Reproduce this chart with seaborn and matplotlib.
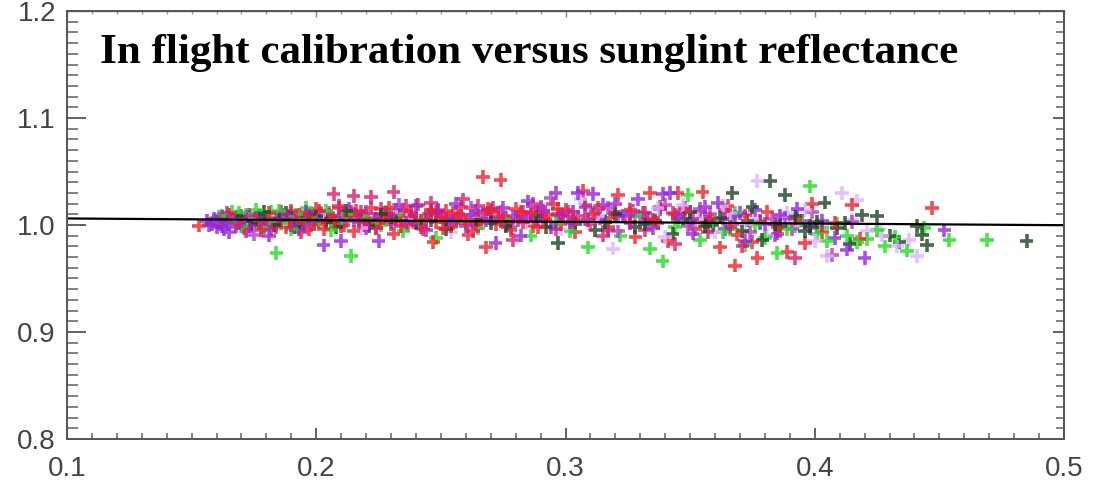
import numpy as np
import pandas as pd
import matplotlib
matplotlib.use("Agg")
import matplotlib.pyplot as plt
import seaborn as sns
from matplotlib.ticker import MultipleLocator

# ---------------- data ----------------
red_x = [0.153,0.162,0.165,0.168,0.171,0.173,0.176,0.178,0.181,0.183,0.186,0.188,0.190,0.192,0.194,0.196,0.198,0.200,0.202,0.203,
         0.205,0.207,0.209,0.210,0.212,0.214,0.215,0.217,0.219,0.221,0.222,0.224,0.226,0.228,0.230,0.231,0.233,0.235,0.237,0.239,
         0.241,0.243,0.245,0.247,0.248,0.250,0.252,0.254,0.256,0.258,0.260,0.261,0.263,0.265,0.267,0.268,0.270,0.272,0.274,0.276,
         0.278,0.280,0.283,0.286,0.289,0.292,0.295,0.298,0.301,0.304,0.307,0.309,0.313,0.317,0.321,0.324,0.328,0.331,0.334,0.337,
         0.341,0.345,0.348,0.352,0.355,0.358,0.362,0.365,0.368,0.369,0.372,0.375,0.377,0.381,0.385,0.389,0.392,0.396,0.399,0.403,
         0.408,0.415,0.418,0.447,
         0.174,0.179,0.184,0.189,0.193,0.197,0.201,0.206,0.211,0.216,0.220,0.225,0.229,0.234,0.238,0.242,0.246,0.251,0.255,0.259,
         0.264,0.269,0.273,0.277,0.282,0.287,0.293,0.297,0.303,0.311,0.318,0.326,0.335,0.343,0.356,0.366]
red_y = [0.9995,1.006,1.010,1.002,0.997,1.008,1.004,0.995,1.011,1.001,1.006,0.998,1.013,1.003,0.993,1.008,1.000,1.015,1.005,0.996,
         1.010,1.002,1.018,0.999,1.007,1.012,0.994,1.004,1.009,1.001,1.016,0.997,1.006,1.011,1.003,0.992,1.008,1.014,1.000,1.005,
         1.019,0.996,1.010,0.984,1.003,1.007,1.013,0.999,1.005,1.017,1.002,0.991,1.009,1.004,1.045,0.979,1.012,1.001,1.042,1.007,
         0.995,1.015,1.003,1.010,0.998,1.006,1.020,1.001,1.012,0.993,1.032,1.005,1.016,0.998,1.028,1.008,0.989,1.011,1.030,1.002,
         0.985,1.030,1.014,0.996,1.031,1.006,0.979,1.018,0.962,0.991,1.009,0.984,0.969,1.012,0.998,0.975,1.005,0.983,1.020,0.993,
         1.002,1.019,0.987,1.016,
         1.001,1.007,0.998,1.004,1.010,0.996,1.003,1.008,1.000,1.013,1.005,1.002,1.016,0.999,1.009,1.004,1.014,0.997,1.011,1.006,
         1.001,1.015,1.008,1.003,1.012,0.999,1.009,1.015,1.004,1.010,1.007,1.014,1.005,1.011,1.003,0.998]

crimson_x = [0.164,0.170,0.177,0.182,0.189,0.195,0.201,0.207,0.211,0.215,0.219,0.222,0.226,0.231,0.234,0.238,0.242,0.246,0.251,0.255,
             0.259,0.263,0.267,0.271,0.275,0.279,0.283,0.287,0.291,0.296,0.300,0.305,0.310,0.315,0.320,0.326,0.332,0.338,0.344,0.351,
             0.357,0.364,0.371,0.378,0.385,0.392,
             0.167,0.173,0.180,0.186,0.192,0.198,0.204,0.209,0.213,0.218,0.224,0.229,0.236,0.244,0.249,0.257,0.265,0.273,0.281,0.289,
             0.298,0.308]
crimson_y = [1.011,1.007,1.002,0.996,1.009,1.004,1.013,1.029,1.006,1.027,1.000,1.026,1.015,1.031,1.004,1.011,0.998,1.021,1.008,1.002,
             1.024,0.994,1.010,1.016,1.003,0.986,1.012,1.020,1.005,0.996,1.014,1.008,1.001,0.990,1.012,1.003,0.995,1.017,0.982,1.006,
             0.993,1.014,0.980,1.004,0.992,0.969,
             1.005,1.010,1.006,1.012,1.002,1.009,1.004,1.016,1.009,1.012,1.006,1.010,1.018,1.005,1.013,1.009,1.018,1.007,1.004,1.012,
             1.008,1.019]

purple_x = [0.156,0.158,0.159,0.160,0.161,0.162,0.163,0.164,0.165,0.167,0.168,0.170,0.172,0.174,0.176,0.179,0.181,0.184,0.187,0.190,
            0.193,0.196,0.199,0.203,0.206,0.210,0.213,0.217,0.220,0.225,0.228,0.232,0.236,0.240,0.244,0.248,0.252,0.256,0.260,0.264,
            0.268,0.272,0.275,0.279,0.282,0.285,0.288,0.291,0.294,0.296,0.299,0.302,0.305,0.308,0.311,0.314,0.317,0.320,0.323,0.326,
            0.329,0.332,0.335,0.339,0.342,0.345,0.348,0.351,0.354,0.357,0.361,0.364,0.368,0.372,0.376,0.380,0.384,0.388,0.393,0.398,
            0.403,0.408,0.413,0.420,0.452,
            0.157,0.160,0.162,0.166,0.169,0.173,0.178,0.183,0.189,0.195,0.202,0.209,0.216,0.223,0.230,0.238,0.246,0.254,0.262,0.270,
            0.277,0.284,0.290,0.297,0.303,0.309,0.315,0.321,0.327,0.333,0.338,0.344,0.350,0.356,0.363,0.370,0.378,0.386,0.395]
purple_y = [1.004,1.001,1.006,0.998,1.003,1.008,0.996,1.002,0.993,1.005,0.999,1.009,0.994,1.003,1.007,0.998,0.990,1.005,1.010,1.000,
            0.996,1.012,1.004,0.981,1.008,0.985,1.015,1.003,0.997,0.985,1.009,1.014,1.002,1.018,0.995,1.012,1.006,1.020,0.999,1.013,
            1.004,0.983,1.016,1.008,0.990,1.022,1.005,1.013,0.998,1.030,1.010,1.003,1.030,1.017,1.029,1.006,0.995,1.020,1.009,1.002,
            1.024,1.011,0.997,1.029,1.030,1.007,1.016,0.992,1.012,1.003,1.021,0.996,1.008,0.985,1.014,1.001,0.990,1.007,1.015,0.997,
            1.004,0.988,0.977,0.969,0.995,
            1.000,1.003,0.999,1.006,1.002,0.999,1.004,1.001,1.006,1.003,1.009,1.005,1.010,1.006,1.001,1.008,1.011,1.004,1.009,1.014,
            1.002,1.007,1.016,1.010,1.012,1.004,1.019,1.008,1.013,1.006,1.015,1.010,1.004,1.017,1.006,1.011,1.002,1.009,1.004]

magenta_x = [0.158,0.163,0.169,0.175,0.185,0.195,0.205,0.215,0.224,0.233,0.244,0.253,0.262,0.270,0.278,0.286,0.294,0.303,0.312,0.321,
             0.330,0.340,0.349,0.358,0.367,0.374,0.383,0.391,0.399,0.407,0.415,
             0.161,0.166,0.172,0.180,0.190,0.200,0.210,0.220,0.229,0.239,0.249,0.258,0.266,0.274,0.282,0.290,0.299,0.308,0.317,0.326,
             0.335,0.345,0.354,0.363]
magenta_y = [1.002,0.999,1.004,0.991,1.007,0.999,1.011,1.004,0.997,1.019,1.007,1.001,1.016,1.006,0.998,1.011,1.025,1.002,1.013,0.994,
             1.008,1.019,0.999,1.010,1.001,0.993,1.006,0.996,1.012,0.972,1.003,
             1.006,1.003,1.008,1.004,1.011,1.006,1.002,1.012,1.008,1.003,1.014,1.009,1.002,1.012,1.007,1.017,1.010,1.005,1.016,1.011,
             1.003,1.009,1.015,1.006]

green_x = [0.160,0.162,0.164,0.166,0.168,0.170,0.172,0.174,0.176,0.178,0.180,0.182,0.184,0.186,0.188,0.190,0.193,0.196,0.199,0.202,
           0.206,0.210,0.214,0.218,0.222,0.228,0.235,0.242,0.248,0.256,0.265,0.275,0.286,0.296,0.302,0.309,0.316,0.322,0.328,0.334,
           0.339,0.344,0.349,0.354,0.359,0.363,0.368,0.372,0.376,0.380,0.385,0.389,0.393,0.398,0.401,0.405,0.409,0.413,0.417,0.421,
           0.425,0.428,0.432,0.437,0.444,0.454,0.469,
           0.161,0.165,0.169,0.173,0.177,0.181,0.185,0.189,0.192,0.195,0.198,0.204,0.208,0.212,0.220,0.226,0.232,0.345,0.357,0.366,
           0.378,0.392,0.403]
green_y = [1.004,1.009,1.001,1.012,1.006,0.999,1.010,1.003,1.014,0.997,1.007,1.012,0.974,1.002,1.009,0.996,1.005,1.016,1.001,1.011,
           0.995,1.006,0.971,1.008,1.002,1.012,0.994,1.004,0.988,1.003,0.997,1.006,0.990,1.001,0.994,0.979,1.004,0.990,1.009,0.978,
           0.966,0.998,1.028,0.986,1.004,0.993,1.011,0.981,1.000,0.988,0.974,0.996,1.006,1.036,0.992,0.985,1.001,0.990,0.984,0.987,
           0.995,0.980,0.989,0.976,0.997,0.986,0.986,
           1.008,1.005,1.011,1.007,1.009,1.004,1.013,1.006,1.010,1.003,1.008,1.013,1.002,1.010,1.005,1.000,1.009,1.004,0.999,0.996,
           1.003,0.999,0.997]

dkgreen_x = [0.168,0.174,0.179,0.185,0.191,0.197,0.204,0.212,0.221,0.230,0.240,0.252,0.264,0.276,0.288,0.297,0.304,0.312,0.320,0.328,
             0.336,0.343,0.350,0.356,0.362,0.367,0.371,0.375,0.379,0.382,0.386,0.388,0.392,0.396,0.401,0.404,0.409,0.414,0.419,0.425,
             0.430,0.434,0.441,0.443,0.445,0.485,
             0.171,0.177,0.183,0.188,0.194,0.200,0.208,0.226,0.246,0.270,0.292,0.316,0.332,0.347,0.359,0.373,0.384,0.398,0.412]
dkgreen_y = [1.008,1.001,1.012,1.005,0.998,1.010,1.003,1.013,0.999,1.007,1.002,0.996,1.005,0.999,1.008,0.983,1.001,0.995,1.010,0.998,
             1.004,0.992,1.012,0.999,1.007,1.030,0.994,1.017,0.986,1.041,0.999,1.028,1.008,0.994,1.003,1.021,0.997,0.982,1.009,1.008,
             0.990,0.984,0.999,0.991,0.981,0.985,
             1.004,1.009,1.000,1.011,1.005,1.008,0.998,1.010,1.004,1.002,0.998,1.003,1.001,1.006,1.000,1.004,1.001,0.999,1.002]

lav_x = [0.172,0.186,0.201,0.218,0.236,0.254,0.270,0.284,0.298,0.306,0.313,0.319,0.326,0.333,0.340,0.347,0.353,0.360,0.366,0.372,
         0.377,0.381,0.386,0.391,0.396,0.400,0.405,0.411,0.417,0.421,0.427,0.433,0.438,0.441,
         0.230,0.262,0.291,0.309,0.323,0.337,0.351,0.363,0.375,0.389,0.403,0.415,0.426]
lav_y = [1.006,1.001,1.009,0.997,1.005,0.993,1.011,1.002,0.996,1.024,1.008,0.978,1.015,1.002,0.989,1.019,1.006,0.993,1.011,1.001,
         1.041,0.990,1.008,0.998,1.014,0.985,0.971,1.030,1.023,0.994,0.990,0.980,0.986,0.971,
         1.012,1.008,1.014,1.003,1.009,1.016,1.001,1.018,1.006,1.011,1.000,1.005,0.996]

fit_x = [0.1, 0.5]
fit_y = [1.0061, 0.9998]

title_text = "In flight calibration versus sunglint reflectance"
x_ticks = [0.1, 0.2, 0.3, 0.4, 0.5]
x_labels = ["0.1", "0.2", "0.3", "0.4", "0.5"]
y_ticks = [0.8, 0.9, 1.0, 1.1, 1.2]
y_labels = ["0.8", "0.9", "1.0", "1.1", "1.2"]

# ---------------- build frame ----------------
series = [
    ("lavender", lav_x, lav_y),
    ("green", green_x, green_y),
    ("purple", purple_x, purple_y),
    ("magenta", magenta_x, magenta_y),
    ("red", red_x, red_y),
    ("crimson", crimson_x, crimson_y),
    ("dkgreen", dkgreen_x, dkgreen_y),
]
frames = [pd.DataFrame({"x": sx, "y": sy, "s": name}) for name, sx, sy in series]
df = pd.concat(frames, ignore_index=True)
# interleave drawing order so colours mix like the original
order = np.argsort((df["x"].values * 997.0) % 1.0, kind="stable")
df = df.iloc[order].reset_index(drop=True)

palette = {
    "lavender": "#dcb4ff",
    "green": "#22dd22",
    "purple": "#9226e0",
    "magenta": "#b63cc4",
    "red": "#f0202c",
    "crimson": "#d81e6e",
    "dkgreen": "#1e4422",
}

sns.set_theme(style="white")
plt.rcParams["font.family"] = ["Liberation Sans", "DejaVu Sans"]

fig = plt.figure(figsize=(11.01, 4.83), dpi=100)
ax = fig.add_axes([67/1101, 1 - 439/483, (1064-67)/1101, (439-11)/483])

sns.scatterplot(data=df, x="x", y="y", hue="s", palette=palette, marker="+",
                s=95, linewidth=2.6, alpha=0.8, legend=False, ax=ax)
sns.lineplot(x=fit_x, y=fit_y, color="black", linewidth=1.6, ax=ax)

ax.set_xlim(0.1, 0.5)
ax.set_ylim(0.8, 1.2)
ax.set_xlabel("")
ax.set_ylabel("")
ax.set_xticks(x_ticks)
ax.set_xticklabels(x_labels)
ax.set_yticks(y_ticks)
ax.set_yticklabels(y_labels)
ax.xaxis.set_minor_locator(MultipleLocator(0.01))
ax.yaxis.set_minor_locator(MultipleLocator(0.01))

for sp in ax.spines.values():
    sp.set_color("#555555")
    sp.set_linewidth(1.4)

ax.tick_params(axis="y", which="major", direction="in", length=14, width=1.3,
               color="#555555", labelsize=20, labelcolor="#444444", pad=8, left=True, right=False)
ax.tick_params(axis="y", which="minor", direction="in", length=8, width=1.3,
               color="#777777", left=True, right=False)
ax.tick_params(axis="x", which="major", direction="in", length=8, width=1.3,
               color="#555555", labelsize=20, labelcolor="#444444", pad=12, bottom=True, top=False)
ax.tick_params(axis="x", which="minor", direction="in", length=4, width=1.3,
               color="#777777", bottom=True, top=False)

sec_y = ax.secondary_yaxis("right")
sec_y.set_yticks(y_ticks)
sec_y.yaxis.set_minor_locator(MultipleLocator(0.01))
sec_y.tick_params(which="major", direction="in", length=8, width=1.3, color="#555555", labelright=False)
sec_y.tick_params(which="minor", direction="in", length=6, width=1.3, color="#777777")
sec_y.spines["right"].set_color("#555555")
sec_y.spines["right"].set_linewidth(1.4)

sec_x = ax.secondary_xaxis("top")
sec_x.set_xticks(x_ticks)
sec_x.xaxis.set_minor_locator(MultipleLocator(0.01))
sec_x.tick_params(which="major", direction="in", length=4, width=1.0, color="#888888", labeltop=False)
sec_x.tick_params(which="minor", direction="in", length=2, width=1.0, color="#999999")
sec_x.spines["top"].set_color("#777777")
sec_x.spines["top"].set_linewidth(1.0)

ax.text(0.033, 0.8785, title_text, transform=ax.transAxes, ha="left", va="baseline",
        fontsize=31, fontweight="bold", family=["Liberation Serif", "DejaVu Serif"], color="black")

fig.savefig("out.png", dpi=100)
